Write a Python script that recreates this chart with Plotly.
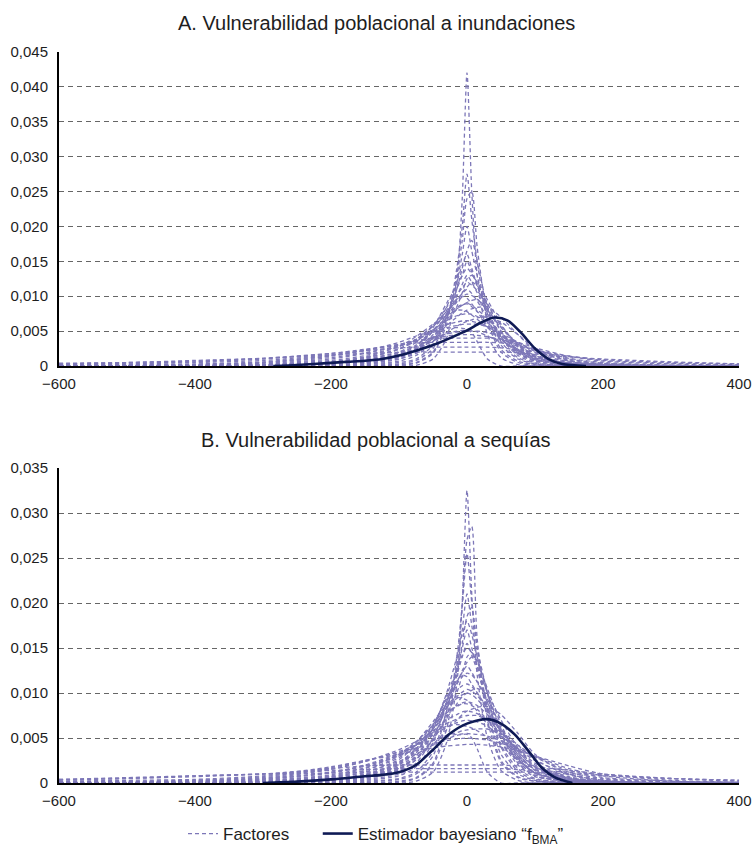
import plotly.graph_objects as go

# ---------------- data (densities in thousandths) ----------------
X_GRID = [-600, -500, -400, -300, -200, -150, -100, -75, -50, -30, -15, -7, 0,
          7, 15, 30, 50, 75, 100, 150, 200, 300, 400]

FACTORS_A_PEAKED_E3 = [
    [0, 0, 0, 0, 0, 0, 0, 0.1, 1.0, 4, 12, 24, 42, 25, 13, 4.5, 1.2, 0.2, 0, 0, 0, 0, 0],
    [0, 0, 0, 0, 0, 0, 0.1, 0.4, 1.8, 6, 14, 20, 27.5, 21, 15, 6.5, 2, 0.5, 0.1, 0, 0, 0, 0],
    [0, 0, 0, 0, 0, 0, 0.2, 0.5, 2, 6.5, 13, 18, 24, 25, 17, 7.5, 2.4, 0.7, 0.2, 0, 0, 0, 0],
    [0, 0, 0, 0, 0, 0.1, 0.3, 0.8, 2.5, 7, 12, 16, 20, 16.5, 13, 7, 3, 1, 0.3, 0, 0, 0, 0],
    [0, 0, 0, 0, 0.1, 0.2, 0.5, 1, 3, 7, 11, 14, 16.5, 18, 15, 8.5, 3.5, 1.2, 0.4, 0.1, 0, 0, 0],
    [0, 0, 0, 0.1, 0.2, 0.5, 1.3, 2.5, 5, 8.5, 12, 14.5, 16, 14, 11.5, 8, 4.2, 1.8, 0.7, 0.2, 0.1, 0, 0],
    [0, 0, 0, 0, 0.1, 0.3, 0.7, 1.5, 3.5, 7.5, 11, 13, 15, 13.5, 11.5, 8, 4, 1.5, 0.5, 0.1, 0, 0, 0],
    [0, 0, 0, 0.1, 0.3, 0.6, 1.5, 2.8, 5.5, 9, 11.5, 13, 14, 13.2, 11.8, 8.5, 5, 2.3, 0.9, 0.3, 0.1, 0, 0],
    [0, 0, 0, 0.1, 0.2, 0.4, 1, 1.8, 3.5, 6, 8.5, 10.5, 12.5, 13, 12, 9.5, 6, 2.8, 1, 0.3, 0.1, 0, 0],
    [0, 0, 0, 0.1, 0.2, 0.4, 1, 2, 4, 7.5, 10, 11.7, 13, 12, 10.5, 7.5, 4, 1.8, 0.7, 0.2, 0.1, 0, 0],
    [0, 0, 0, 0.1, 0.4, 0.9, 2, 3.4, 5.8, 8.4, 10.2, 11.2, 12, 11.6, 10.8, 8.8, 5.8, 3, 1.3, 0.4, 0.1, 0, 0],
    [0, 0, 0, 0.1, 0.2, 0.5, 1.2, 2.2, 4.2, 7, 9.2, 10.5, 11.3, 12, 11.5, 9, 5, 2, 0.8, 0.2, 0.1, 0, 0],
    [0, 0, 0, 0.1, 0.3, 0.6, 1.4, 2.5, 4.5, 7.5, 9.5, 10.4, 11, 10.4, 9.3, 7, 4.5, 2.2, 1, 0.3, 0.1, 0, 0],
    [0, 0, 0.1, 0.2, 0.5, 1.1, 2.4, 3.8, 5.8, 7.8, 9.2, 9.9, 10.3, 10.1, 9.6, 8, 5.6, 3.2, 1.5, 0.4, 0.1, 0, 0],
    [0, 0, 0, 0.1, 0.3, 0.7, 1.6, 2.8, 5, 8, 9.6, 10, 9.7, 8.9, 7.8, 5.8, 3.8, 2, 0.9, 0.3, 0.1, 0, 0],
    [0, 0, 0, 0.1, 0.3, 0.6, 1.3, 2.3, 4, 6.5, 8.1, 8.7, 9.1, 9.4, 9.5, 8, 5.5, 3, 1.3, 0.4, 0.1, 0, 0],
    [0, 0, 0, 0.1, 0.4, 0.8, 1.8, 3, 5, 7, 8.2, 8.7, 9, 8.7, 8.1, 6.8, 4.8, 2.7, 1.3, 0.4, 0.1, 0, 0],
    [0, 0, 0.1, 0.2, 0.6, 1.3, 2.8, 4.2, 6, 7.4, 8.4, 8.8, 8.9, 8.5, 7.8, 6.3, 4.2, 2.4, 1.2, 0.4, 0.1, 0, 0],
    [0, 0, 0, 0.1, 0.3, 0.6, 1.4, 2.4, 4, 5.8, 7, 7.6, 8, 8.2, 8.4, 8.5, 7, 4.5, 2.3, 0.7, 0.2, 0, 0],
    [0, 0, 0.1, 0.2, 0.6, 1.2, 2.5, 3.8, 5.7, 7.3, 8, 8, 7.8, 7.3, 6.7, 5.5, 3.8, 2.2, 1.1, 0.3, 0.1, 0, 0],
    [0, 0, 0.1, 0.2, 0.6, 1.2, 2.4, 3.6, 5.2, 6.5, 7.2, 7.4, 7.5, 7.4, 7.1, 6.2, 4.6, 2.9, 1.6, 0.5, 0.2, 0, 0],
    [0, 0, 0, 0.1, 0.4, 0.8, 1.6, 2.4, 3.6, 4.8, 5.7, 6.1, 6.4, 6.6, 6.9, 7, 6.3, 4.5, 2.6, 0.8, 0.2, 0, 0],
    [0, 0, 0.1, 0.3, 0.8, 1.5, 2.8, 3.8, 5, 5.9, 6.3, 6.45, 6.5, 6.4, 6.2, 5.6, 4.5, 3.1, 1.9, 0.6, 0.2, 0, 0],
    [0, 0.1, 0.2, 0.4, 1, 1.8, 2.9, 3.8, 4.8, 5.5, 5.8, 5.95, 6, 6, 6, 5.6, 4.7, 3.4, 2.1, 0.8, 0.3, 0.1, 0],
    [0, 0.1, 0.2, 0.5, 1.4, 2.2, 3.4, 4.3, 5, 5.4, 5.5, 5.4, 5.3, 5.1, 4.9, 4.3, 3.4, 2.3, 1.4, 0.5, 0.2, 0, 0],
    [0.1, 0.1, 0.2, 0.5, 1.2, 1.9, 2.9, 3.5, 4.1, 4.6, 4.85, 4.95, 5, 5, 5, 4.8, 4.2, 3.3, 2.3, 1, 0.4, 0.1, 0],
    [0.1, 0.2, 0.3, 0.6, 1.5, 2.2, 3.1, 3.6, 4, 4.3, 4.45, 4.5, 4.5, 4.5, 4.4, 4.2, 3.8, 3.1, 2.3, 1.1, 0.5, 0.1, 0],
    [0, 0, 0, 0.1, 0.5, 1, 2, 2.8, 3.8, 4.6, 5, 5.1, 5.1, 4.8, 3.5, 1, 0, 0, 0, 0, 0, 0, 0],
]

FACTORS_A_FLAT_E3 = [
    [0.2, 0.3, 0.5, 0.8, 1.6, 2.3, 3.1, 3.6, 3.9, 4, 4, 4, 4, 4, 4, 4, 3.9, 3.4, 2.6, 1.4, 0.7, 0.3, 0.1],
    [0.3, 0.4, 0.6, 1, 1.8, 2.4, 3, 3.3, 3.4, 3.4, 3.4, 3.4, 3.4, 3.4, 3.4, 3.4, 3.3, 2.9, 2.3, 1.4, 0.8, 0.4, 0.2],
    [0.3, 0.5, 0.7, 1.1, 1.8, 2.2, 2.6, 2.7, 2.7, 2.7, 2.7, 2.7, 2.7, 2.7, 2.7, 2.7, 2.6, 2.3, 2, 1.4, 0.9, 0.5, 0.3],
    [0.4, 0.5, 0.8, 1.1, 1.6, 1.8, 1.95, 2, 2, 2, 2, 2, 2, 2, 2, 2, 2, 1.9, 1.7, 1.3, 1, 0.6, 0.3],
]

FACTORS_B_PEAKED_E3 = [
    [0, 0, 0, 0, 0, 0, 0, 0.2, 1.2, 4.5, 11, 20, 32.5, 21, 12, 5, 1.4, 0.3, 0, 0, 0, 0, 0],
    [0, 0, 0, 0, 0, 0, 0.1, 0.5, 2, 6, 13, 20, 27, 28.5, 16, 8, 2.5, 0.7, 0.2, 0, 0, 0, 0],
    [0, 0, 0, 0, 0, 0, 0.2, 0.6, 2.2, 7, 14, 19.5, 25.5, 20, 15, 7, 2.3, 0.6, 0.2, 0, 0, 0, 0],
    [0, 0, 0, 0, 0, 0.1, 0.4, 1, 3, 8, 13, 17, 21, 17.5, 14, 8, 3.2, 1, 0.3, 0, 0, 0, 0],
    [0, 0, 0, 0, 0.1, 0.2, 0.5, 1.2, 3.5, 8, 12, 15.5, 18.5, 19.5, 15, 10, 4, 1.3, 0.4, 0.1, 0, 0, 0],
    [0, 0, 0, 0.1, 0.3, 0.6, 1.5, 3, 6, 10, 14, 16.5, 18, 16.5, 14, 10, 5.5, 2.2, 0.8, 0.2, 0, 0, 0],
    [0, 0, 0, 0, 0.1, 0.3, 0.8, 1.8, 4.5, 9, 12.5, 15, 17, 15, 13, 8.5, 4.2, 1.6, 0.5, 0.1, 0, 0, 0],
    [0, 0, 0, 0.1, 0.2, 0.4, 1, 2.2, 5, 9, 12, 14, 15.5, 14.2, 12.5, 9, 4.8, 2, 0.7, 0.2, 0, 0, 0],
    [0, 0, 0, 0.1, 0.3, 0.7, 1.8, 3.3, 6.2, 9.8, 12.5, 14.2, 15, 14.5, 13, 10, 6, 2.8, 1.1, 0.3, 0.1, 0, 0],
    [0, 0, 0, 0.1, 0.3, 0.6, 1.4, 2.6, 4.8, 7.5, 10, 12, 14, 14.5, 13.5, 10.5, 6.5, 3, 1.1, 0.3, 0.1, 0, 0],
    [0, 0, 0, 0.1, 0.2, 0.5, 1.3, 2.6, 5, 8.5, 11, 12.5, 13.4, 14, 13.5, 10, 5.5, 2.4, 0.9, 0.2, 0.1, 0, 0],
    [0, 0, 0, 0.1, 0.3, 0.6, 1.6, 3, 5.5, 9, 11.2, 12.3, 13, 12.3, 11.2, 9, 5.5, 2.7, 1.1, 0.3, 0.1, 0, 0],
    [0, 0, 0, 0.1, 0.4, 0.9, 2.2, 3.8, 6.5, 9.3, 11, 11.8, 12.2, 12, 11.3, 9.3, 6.2, 3.3, 1.4, 0.4, 0.1, 0, 0],
    [0, 0, 0, 0.1, 0.4, 0.8, 2, 3.5, 6.3, 9.5, 11.4, 12, 11.8, 11, 10, 7.8, 5, 2.6, 1.1, 0.3, 0.1, 0, 0],
    [0, 0, 0, 0.1, 0.4, 0.9, 2.1, 3.6, 6, 8.8, 10.3, 10.8, 11, 10.7, 10, 8.3, 5.7, 3.2, 1.5, 0.4, 0.1, 0, 0],
    [0, 0, 0.1, 0.2, 0.6, 1.2, 2.6, 4.2, 6.5, 8.4, 9.6, 10.1, 10.4, 10.2, 9.7, 8.3, 6, 3.5, 1.7, 0.5, 0.1, 0, 0],
    [0, 0, 0, 0.1, 0.3, 0.7, 1.6, 2.8, 4.8, 7.2, 8.8, 9.6, 10, 10.3, 10.5, 9.8, 7, 3.9, 1.8, 0.5, 0.1, 0, 0],
    [0, 0, 0, 0.2, 0.5, 1, 2.3, 3.8, 6, 8.3, 9.4, 9.8, 10, 9.8, 9.3, 8, 5.8, 3.5, 1.8, 0.5, 0.2, 0, 0],
    [0, 0, 0.1, 0.2, 0.7, 1.4, 3, 4.5, 6.8, 8.7, 9.5, 9.4, 9.2, 8.7, 8, 6.5, 4.4, 2.5, 1.2, 0.3, 0.1, 0, 0],
    [0, 0, 0.1, 0.2, 0.7, 1.4, 2.8, 4.2, 6, 7.8, 8.6, 8.9, 9, 8.9, 8.6, 7.6, 5.8, 3.7, 2, 0.6, 0.2, 0, 0],
    [0, 0, 0.1, 0.3, 0.8, 1.6, 3.2, 4.6, 6.4, 7.8, 8.5, 8.8, 8.8, 8.6, 8.2, 7, 5, 3, 1.5, 0.5, 0.1, 0, 0],
    [0, 0, 0, 0.1, 0.4, 0.8, 1.8, 2.8, 4.3, 5.9, 7, 7.6, 8, 8.2, 8.4, 8.5, 7.6, 5.5, 3.2, 1, 0.3, 0, 0],
    [0, 0, 0.1, 0.3, 0.9, 1.7, 3.1, 4.3, 5.8, 7, 7.6, 7.9, 8, 7.9, 7.7, 7, 5.6, 3.8, 2.2, 0.7, 0.2, 0, 0],
    [0, 0.1, 0.2, 0.4, 1.1, 1.9, 3.2, 4.2, 5.5, 6.6, 7.1, 7.35, 7.5, 7.5, 7.5, 7, 5.9, 4.2, 2.6, 0.9, 0.3, 0.1, 0],
    [0, 0.1, 0.2, 0.4, 1.2, 2, 3.3, 4.2, 5.3, 6.2, 6.7, 6.9, 7, 6.9, 6.8, 6.3, 5.2, 3.8, 2.5, 1, 0.4, 0.1, 0],
    [0, 0.1, 0.2, 0.5, 1.5, 2.4, 3.7, 4.6, 5.6, 6.3, 6.5, 6.4, 6.3, 6.1, 5.8, 5.1, 4, 2.8, 1.7, 0.6, 0.2, 0, 0],
    [0.1, 0.1, 0.2, 0.5, 1.2, 1.9, 3, 3.8, 4.7, 5.3, 5.6, 5.8, 5.9, 5.95, 6, 6, 5.4, 4.2, 2.9, 1.2, 0.5, 0.1, 0],
    [0.1, 0.1, 0.3, 0.6, 1.6, 2.4, 3.5, 4.2, 4.8, 5.2, 5.4, 5.45, 5.5, 5.45, 5.4, 5.2, 4.7, 3.9, 2.9, 1.4, 0.6, 0.2, 0],
    [0.1, 0.2, 0.3, 0.7, 1.7, 2.5, 3.4, 3.9, 4.4, 4.7, 4.9, 4.95, 5, 4.95, 4.9, 4.8, 4.4, 3.8, 3, 1.6, 0.8, 0.2, 0.1],
    [0.2, 0.3, 0.4, 0.8, 1.8, 2.5, 3.2, 3.6, 3.9, 4.1, 4.2, 4.25, 4.3, 4.3, 4.3, 4.2, 4, 3.6, 3, 1.9, 1, 0.3, 0.1],
    [0, 0, 0, 0.1, 0.6, 1.2, 2.4, 3.2, 4.2, 4.9, 5.3, 5.4, 5.4, 5, 3.8, 1.2, 0, 0, 0, 0, 0, 0, 0],
]

FACTORS_B_FLAT_E3 = [
    [0.3, 0.5, 0.7, 1, 1.6, 1.9, 2, 2, 2, 2, 2, 2, 2, 2, 2, 2, 2, 1.9, 1.8, 1.4, 1, 0.5, 0.2],
    [0.4, 0.5, 0.8, 1, 1.4, 1.5, 1.6, 1.6, 1.6, 1.6, 1.6, 1.6, 1.6, 1.6, 1.6, 1.6, 1.6, 1.5, 1.4, 1.2, 0.9, 0.5, 0.3],
    [0.4, 0.6, 0.8, 1, 1.1, 1.2, 1.2, 1.2, 1.2, 1.2, 1.2, 1.2, 1.2, 1.2, 1.2, 1.2, 1.2, 1.2, 1.2, 1, 0.8, 0.5, 0.3],
]

BMA_A_X = [-285, -250, -200, -175, -150, -125, -100, -75, -50, -25, 0, 20, 40, 60, 80, 100, 120, 140, 175]
BMA_A_E3 = [0, 0.15, 0.45, 0.6, 0.75, 1.0, 1.5, 2.2, 3.0, 4.0, 5.1, 6.2, 6.95, 6.5, 4.7, 2.5, 1.0, 0.3, 0]

BMA_B_X = [-300, -250, -200, -150, -125, -100, -75, -50, -25, 0, 30, 50, 70, 90, 110, 130, 155]
BMA_B_E3 = [0, 0.15, 0.4, 0.75, 0.9, 1.2, 2.0, 3.7, 5.5, 6.6, 7.1, 6.6, 5.4, 3.6, 1.7, 0.6, 0]

TITLE_A = "A. Vulnerabilidad poblacional a inundaciones"
TITLE_B = "B. Vulnerabilidad poblacional a sequías"
X_TICKS = [-600, -400, -200, 0, 200, 400]
X_TICKTEXT = ["−600", "−400", "−200", "0", "200", "400"]
Y_TICKS_A = [0, 0.005, 0.010, 0.015, 0.020, 0.025, 0.030, 0.035, 0.040, 0.045]
Y_TICKTEXT_A = ["0", "0,005", "0,010", "0,015", "0,020", "0,025", "0,030", "0,035", "0,040", "0,045"]
Y_TICKS_B = [0, 0.005, 0.010, 0.015, 0.020, 0.025, 0.030, 0.035]
Y_TICKTEXT_B = ["0", "0,005", "0,010", "0,015", "0,020", "0,025", "0,030", "0,035"]
LEGEND_FACTORS = "Factores"
LEGEND_BMA = "Estimador bayesiano “f<sub>BMA</sub>”"

# ---------------- styles ----------------
FACTOR_COLOR = "#7d77b8"
BMA_COLOR = "#0f1a55"
TEXT_COLOR = "#1e1e1e"
FONT = "Liberation Sans, Arial, sans-serif"
W, H = 752, 847

fig = go.Figure()


def add_panel(factors, bma_x, bma_y, xa, ya, first):
    shown = first
    for ys in factors:
        assert len(ys) == len(X_GRID)
        fig.add_trace(go.Scatter(
            x=X_GRID, y=[v * 1e-3 for v in ys], mode="lines",
            line=dict(color=FACTOR_COLOR, width=1.3, dash="4px,3px", shape="spline", smoothing=0.7),
            name=LEGEND_FACTORS + "\u00a0" * 5, legendgroup="f", showlegend=shown,
            xaxis=xa, yaxis=ya, hoverinfo="skip"))
        shown = False
    fig.add_trace(go.Scatter(
        x=bma_x, y=[v * 1e-3 for v in bma_y], mode="lines",
        line=dict(color=BMA_COLOR, width=2.6, shape="spline", smoothing=0.8),
        name=LEGEND_BMA, legendgroup="b", showlegend=first,
        xaxis=xa, yaxis=ya, hoverinfo="skip"))


add_panel(FACTORS_A_PEAKED_E3 + FACTORS_A_FLAT_E3, BMA_A_X, BMA_A_E3, "x", "y", True)
add_panel(FACTORS_B_PEAKED_E3 + FACTORS_B_FLAT_E3, BMA_B_X, BMA_B_E3, "x2", "y2", False)

x_dom = [59 / W, 739 / W]
ya_dom = [(H - 366) / H, (H - 52) / H]
yb_dom = [(H - 783) / H, (H - 468) / H]

tickfont = dict(family=FONT, size=15, color=TEXT_COLOR)
xcommon = dict(range=[-600, 400], tickvals=X_TICKS, ticktext=X_TICKTEXT, showgrid=False,
               zeroline=False, showline=True, linecolor="black", linewidth=2, ticks="",
               ticklabeloverflow="allow", ticklabelstandoff=3,
               tickfont=tickfont, domain=x_dom, fixedrange=True, automargin=False)
ycommon = dict(showgrid=True, gridcolor="#666666", gridwidth=1, griddash="5px,4px",
               zeroline=False, showline=True, linecolor="black", linewidth=2, ticks="",
               ticklabeloverflow="allow", ticklabelstandoff=6,
               tickfont=tickfont, fixedrange=True, automargin=False)

fig.update_layout(
    template="none",
    width=W, height=H, margin=dict(l=0, r=0, t=0, b=0, autoexpand=False),
    paper_bgcolor="white", plot_bgcolor="white",
    font=dict(family=FONT, color=TEXT_COLOR),
    xaxis=dict(**xcommon, anchor="y"),
    xaxis2=dict(**xcommon, anchor="y2"),
    yaxis=dict(**ycommon, range=[0, 0.045], tickvals=Y_TICKS_A, ticktext=Y_TICKTEXT_A,
               domain=ya_dom, anchor="x"),
    yaxis2=dict(**ycommon, range=[0, 0.035], tickvals=Y_TICKS_B, ticktext=Y_TICKTEXT_B,
                domain=yb_dom, anchor="x2"),
    showlegend=True,
    legend=dict(orientation="h", x=0.5, xanchor="center", y=(H - 834) / H, yanchor="middle",
                font=dict(family=FONT, size=17, color=TEXT_COLOR), bgcolor="rgba(0,0,0,0)",
                itemwidth=30, tracegroupgap=0),
    annotations=[
        dict(text=TITLE_A, x=0.5, y=(H - 23) / H, xref="paper", yref="paper",
             showarrow=False, font=dict(family=FONT, size=20, color=TEXT_COLOR),
             xanchor="center", yanchor="middle"),
        dict(text=TITLE_B, x=0.5, y=(H - 440) / H, xref="paper", yref="paper",
             showarrow=False, font=dict(family=FONT, size=20, color=TEXT_COLOR),
             xanchor="center", yanchor="middle"),
    ],
)

fig.write_html(
    "out.html",
    config={"displayModeBar": False, "staticPlot": True},
    post_script="document.body.style.margin='0';document.body.style.overflow='hidden';",
)
